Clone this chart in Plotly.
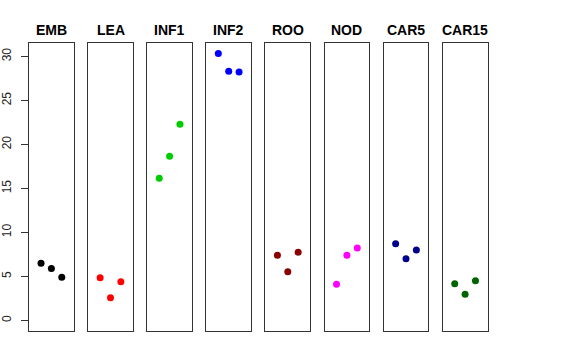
import plotly.graph_objects as go

groups = ["EMB", "LEA", "INF1", "INF2", "ROO", "NOD", "CAR5", "CAR15"]
colors = ["#000000", "#FF0000", "#00CD00", "#0000FF", "#8B0000", "#FF00FF", "#00008B", "#006400"]
positions = [1, 2, 3]
values = {
    "EMB":   [6.48, 5.91, 4.89],
    "LEA":   [4.85, 2.57, 4.39],
    "INF1":  [16.15, 18.66, 22.30],
    "INF2":  [30.33, 28.33, 28.25],
    "ROO":   [7.39, 5.53, 7.74],
    "NOD":   [4.10, 7.39, 8.23],
    "CAR5":  [8.71, 7.01, 8.00],
    "CAR15": [4.16, 2.96, 4.51],
}
y_ticks = [0, 5, 10, 15, 20, 25, 30]

W, H = 576, 360
x0, pitch, pw = 29.0, 59.1, 44.8
ytop, ybot = 43.3, 331.0

fig = go.Figure()
layout = dict(
    width=W, height=H, margin=dict(l=0, r=0, t=0, b=0, autoexpand=False),
    paper_bgcolor="white", plot_bgcolor="white", showlegend=False,
    font=dict(family="Liberation Sans, Arial, sans-serif", color="#000000"),
)
annotations = []
for i, g in enumerate(groups):
    sfx = "" if i == 0 else str(i + 1)
    fig.add_trace(go.Scatter(
        x=positions, y=values[g], mode="markers",
        marker=dict(color=colors[i], size=7, line=dict(width=0)),
        xaxis="x" + sfx, yaxis="y" + sfx, hoverinfo="skip",
    ))
    left = x0 + pitch * i
    layout["xaxis" + sfx] = dict(
        domain=[left / W, (left + pw) / W], range=[-0.16, 4.16],
        showgrid=False, zeroline=False, showticklabels=False, ticks="",
        showline=True, mirror=True, linecolor="#333333", linewidth=1,
        anchor="y" + sfx, fixedrange=True, automargin=False,
    )
    yax = dict(
        domain=[1 - ybot / H, 1 - ytop / H], range=[-1.21, 31.5],
        showgrid=False, zeroline=False,
        showline=True, mirror=True, linecolor="#333333", linewidth=1,
        anchor="x" + sfx, fixedrange=True, automargin=False,
    )
    if i == 0:
        yax.update(tickmode="array", tickvals=y_ticks, ticktext=[str(t) for t in y_ticks],
                   ticks="outside", ticklen=7, tickcolor="#333333", tickwidth=1,
                   tickangle=-90, ticklabelstandoff=5,
                   tickfont=dict(size=12, color="#222222"))
    else:
        yax.update(showticklabels=False, ticks="")
    layout["yaxis" + sfx] = yax
    annotations.append(dict(
        x=(left + pw / 2) / W, y=1 - 30 / H, xref="paper", yref="paper",
        text="<b>" + g + "</b>", showarrow=False, xanchor="center", yanchor="middle",
        font=dict(size=14, color="#000000", family="Liberation Sans, Arial, sans-serif"),
    ))
layout["annotations"] = annotations
fig.update_layout(**layout)
fig.write_html("out.html", config={"displayModeBar": False},
               post_script="document.body.style.margin='0px';")
